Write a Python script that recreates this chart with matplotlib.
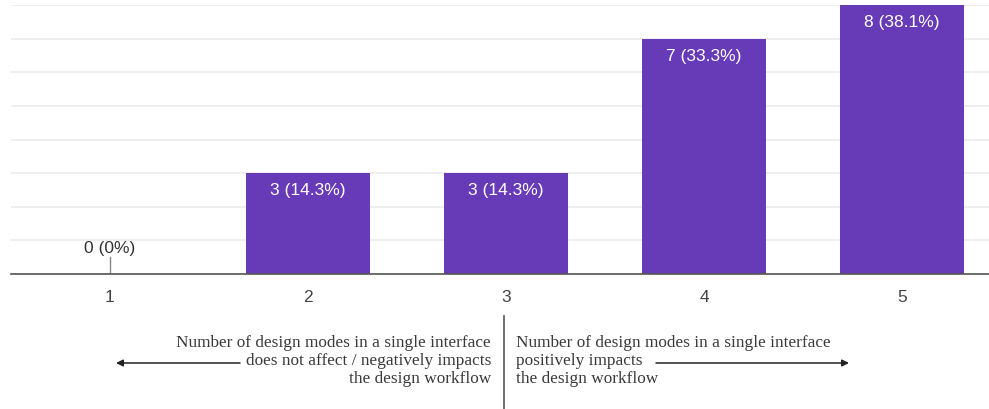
import matplotlib.pyplot as plt
from matplotlib.patches import FancyArrowPatch

# Survey responses on a 1-5 scale
categories = [1, 2, 3, 4, 5]
counts = [0, 3, 3, 7, 8]
percents = ["0%", "14.3%", "14.3%", "33.3%", "38.1%"]
tick_labels = ["1", "2", "3", "4", "5"]

left_note = ["Number of design modes in a single interface",
             "does not affect / negatively impacts",
             "the design workflow"]
right_note = ["Number of design modes in a single interface",
              "positively impacts",
              "the design workflow"]

W, H = 989, 410
fig = plt.figure(figsize=(W / 100, H / 100), dpi=100)
fig.patch.set_facecolor("white")

ax_left, ax_right = 11, 989
ax_top, ax_bottom = 6, 275
ax = fig.add_axes([ax_left / W, (H - ax_bottom) / H,
                   (ax_right - ax_left) / W, (ax_bottom - ax_top) / H])

purple = "#673ab7"
sans = ["Liberation Sans", "DejaVu Sans"]
serif = ["Liberation Serif", "DejaVu Serif"]
label_size = 12.5

ax.bar(categories, counts, width=0.625, color=purple, zorder=3)

ax.set_xlim(0.5, 0.5 + (ax_right - ax_left) / 198)
ax.set_ylim(0, 8)
ax.set_yticks(range(0, 9))
ax.yaxis.grid(True, color="#ebebeb", linewidth=1.2, zorder=0)
ax.tick_params(axis="y", left=False, labelleft=False)
ax.set_xticks(categories)
ax.set_xticklabels(tick_labels, fontsize=label_size, color="#444444", family=sans)
ax.tick_params(axis="x", length=0, pad=11)
for side in ["left", "right", "top"]:
    ax.spines[side].set_visible(False)
ax.spines["bottom"].set_color("#555555")
ax.spines["bottom"].set_linewidth(1.2)
ax.spines["bottom"].set_zorder(4)

for x, c, p in zip(categories, counts, percents):
    label = f"{c} ({p})"
    if c == 0:
        ax.plot([x, x], [0, 0.5], color="#888888", linewidth=1, zorder=4)
        ax.annotate(label, (x, 0.5), xytext=(0, 1.5), textcoords="offset points",
                    ha="center", va="bottom", fontsize=label_size,
                    color="#333333", family=sans)
    else:
        ax.annotate(label, (x, c), xytext=(0, -6.5), textcoords="offset points",
                    ha="center", va="top", fontsize=label_size,
                    color="white", family=sans, zorder=5)

# Explanatory notes under the scale
def fx(px):
    return px / W

def fy(py):
    return 1 - py / H

fig.add_artist(plt.Line2D([fx(504), fx(504)], [fy(317), fy(410)],
                          color="#555555", linewidth=1.2))

note_size = 12.4
line_y = [343, 361, 379]
for txt, y in zip(left_note, line_y):
    fig.text(fx(491), fy(y), txt, ha="right", va="center", fontsize=note_size,
             color="#3a3a3a", family=serif)
for txt, y in zip(right_note, line_y):
    fig.text(fx(516), fy(y), txt, ha="left", va="center", fontsize=note_size,
             color="#3a3a3a", family=serif)

for x0, x1 in [(240, 116), (656, 849)]:
    fig.add_artist(FancyArrowPatch((fx(x0), fy(364)), (fx(x1), fy(364)),
                                   transform=fig.transFigure,
                                   arrowstyle="-|>,head_length=4,head_width=2",
                                   color="#222222", linewidth=1.1,
                                   shrinkA=0, shrinkB=0))

fig.savefig("out.png", dpi=100, facecolor="white")
